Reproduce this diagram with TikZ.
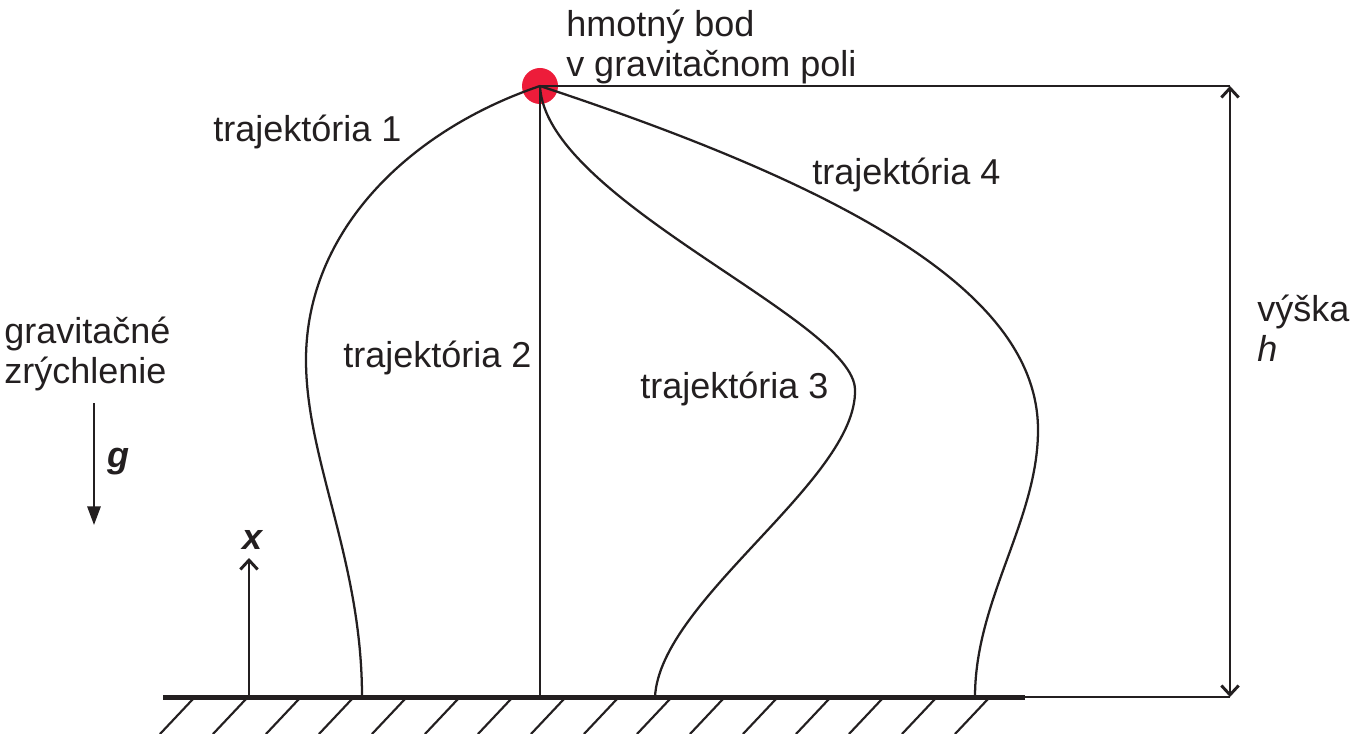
\documentclass[tikz,border=0pt]{standalone}
\usepackage{fontspec}
\setmainfont{Liberation Sans}
\usetikzlibrary{arrows.meta}

\definecolor{ink}{RGB}{35,31,32}
\definecolor{bodred}{RGB}{237,28,58}

\tikzset{
  popis/.style={inner sep=0pt, text=ink, align=left, anchor=base west,
    font=\fontsize{27}{30}\selectfont},
  draha/.style={draw=ink, line width=1.7pt},
  kota/.style={draw=ink, line width=1.8pt,
    {Straight Barb[length=7pt,width=13pt,line width=2.2pt]}-{Straight Barb[length=7pt,width=13pt,line width=2.2pt]}},
}

\begin{document}
\begin{tikzpicture}[x=0.75pt, y=-0.75pt]
    \useasboundingbox (0,0) rectangle (1357,734);
    % body
    \coordinate (m)  at (540,86);
    \coordinate (hr) at (1230,86);
    \coordinate (br) at (1230,697);
    \coordinate (gl) at (163,697);
    \coordinate (gr) at (1025,697);
    \coordinate (d1) at (362,697);
    \coordinate (d2) at (540,697);
    \coordinate (d3) at (655,697);
    \coordinate (d4) at (975,697);
    \coordinate (xa) at (249,697);
    \coordinate (xb) at (249,558);
    \coordinate (ga) at (94,403);
    \coordinate (gb) at (94,525);

    \fill[bodred] (m) circle[radius=13.5pt];

    % zem
    \draw[ink, line width=3.75pt] (gl) -- (gr);
    \foreach \x in {193,246,...,988}
        \draw[ink, line width=1.6pt] (\x,699) -- ++(-33,35);
    \draw[ink, line width=1.4pt] (gr) -- (br);

    % vyska
    \draw[ink, line width=2.2pt] (m) -- (hr);
    \draw[kota] (br) -- (hr);

    % trajektorie
    \draw[draha] (m) .. controls (410,130) and (306,230) .. (306,360)
                     .. controls (306,460) and (362,560) .. (d1);
    \draw[draha] (m) -- (d2);
    \draw[draha] (m) .. controls (545,200) and (855,320) .. (855,390)
                     .. controls (857,480) and (660,600) .. (d3);
    \draw[draha] (m) .. controls (870,195) and (1038,300) .. (1038,430)
                     .. controls (1038,520) and (975,600) .. (d4);

    % sipky
    \draw[ink, line width=1.8pt, -{Straight Barb[length=7pt,width=13pt,line width=2.2pt]}] (xa) -- (xb);
    \draw[ink, line width=1.5pt, -{Triangle[length=14pt,width=10pt]}] (ga) -- (gb);

    % texty
    \node[popis] (t1)  at (213,142) {trajektória 1};
    \node[popis] (t2)  at (343,368) {trajektória 2};
    \node[popis] (t3)  at (640,398) {trajektória 3};
    \node[popis] (t4)  at (812,185) {trajektória 4};
    \node[popis] (bod) at (566,77)  {hmotný bod\\v gravitačnom poli};
    \node[popis] (acc) at (4,383)   {gravitačné\\zrýchlenie};
    \node[popis] (gv)  at (107,467) {\textbf{\textit{g}}};
    \node[popis] (xv)  at (242,549) {\textbf{\textit{x}}};
    \node[popis] (hv)  at (1257,362) {výška\\\textit{h}};
\end{tikzpicture}
\end{document}
